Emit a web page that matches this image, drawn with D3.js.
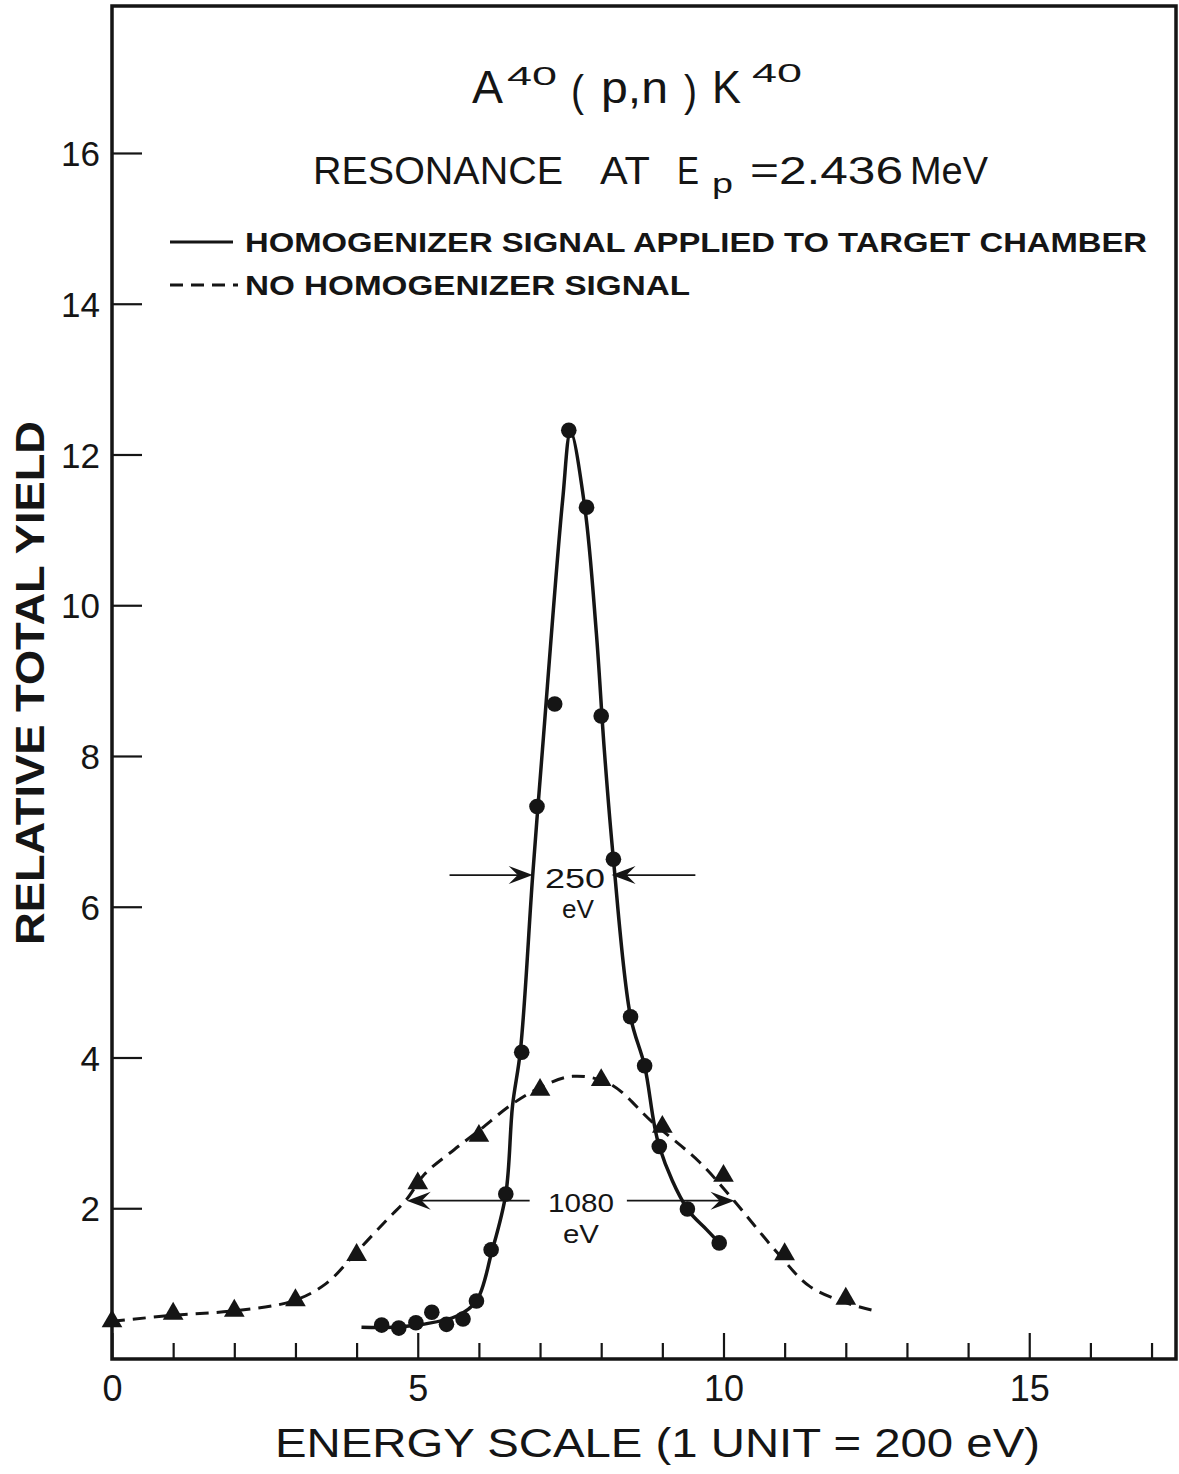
<!DOCTYPE html>
<html><head><meta charset="utf-8">
<script src="https://cdn.jsdelivr.net/npm/d3@7"></script>
<style>body{margin:0;background:#fff}svg{display:block}</style>
</head><body>
<svg id="c" width="1179" height="1474"></svg>
<script>
// ---- data ----
// measured points, homogenizer signal applied (circles)
const homX = [4.41,4.69,4.97,5.23,5.47,5.74,5.96,6.20,6.44,6.70,6.95,7.24,7.47,7.76,8.00,8.20,8.48,8.71,8.95,9.41,9.93];
const homY = [0.45,0.41,0.48,0.62,0.46,0.53,0.77,1.45,2.19,4.07,7.33,8.69,12.32,11.30,8.53,6.63,4.54,3.89,2.82,1.99,1.54];
// hand-drawn solid curve
const homCurveX = [4.08,4.60,5.08,5.64,5.96,6.21,6.44,6.55,6.68,6.88,7.04,7.37,7.50,7.73,7.92,8.05,8.20,8.48,8.71,8.95,9.41,9.72,9.93];
const homCurveY = [0.42,0.42,0.46,0.57,0.77,1.42,2.19,3.36,4.10,6.42,8.09,11.40,12.30,11.31,9.64,8.09,6.63,4.54,3.89,2.82,1.99,1.72,1.54];
// measured points, no homogenizer signal (triangles)
const noX = [0,1,2,3,4,5,6,7,8,9,10,11,12];
const noY = [0.50,0.60,0.64,0.78,1.38,2.33,2.96,3.57,3.70,3.08,2.43,1.39,0.80];
// hand-drawn dashed curve
const noCurveX = [0,1,2,2.96,3.5,4.0,4.5,4.82,5.11,5.6,6.0,6.54,7.0,7.53,8.14,8.84,9.61,10.15,10.87,11.4,11.95,12.42];
const noCurveY = [0.50,0.58,0.64,0.77,1.00,1.42,1.85,2.12,2.45,2.78,3.03,3.38,3.60,3.75,3.65,3.14,2.61,2.12,1.42,0.97,0.76,0.65];
// width markers (half-maximum arrows)
const fwhm250 = {y:6.42, outerL:5.52, tipL:6.88, tipR:8.17, outerR:9.54};
const fwhm1080 = {y:2.10, innerL:6.83, tipL:4.82, innerR:8.42, tipR:10.18};
// axes
const xDomain = [0, 17.4];
const yDomain = [0, 17.95];
const xTickValues = [0,1,2,3,4,5,6,7,8,9,10,11,12,13,14,15,16,17];
const xTickLabels = {0:"0",5:"5",10:"10",15:"15"};
const yTickValues = [2,4,6,8,10,12,14,16];
const yTickLabels = ["2","4","6","8","10","12","14","16"];

// ---- drawing ----
const svg = d3.select("#c");
const FONT = "'Liberation Sans', Arial, sans-serif";
const INK = "#151515";
const x = d3.scaleLinear().domain(xDomain).range([112, 1176]);
const y = d3.scaleLinear().domain(yDomain).range([1359, 6]);

// frame
svg.append("path")
  .attr("d", `M${x(0)},${y(yDomain[1])}H${x(xDomain[1])}V${y(0)}H${x(0)}Z`)
  .attr("fill","none").attr("stroke",INK).attr("stroke-width",3.5);

// x axis
const gx = svg.append("g").attr("transform",`translate(0,${y(0)})`)
  .call(d3.axisBottom(x).tickValues(xTickValues).tickSize(-16).tickPadding(16)
    .tickFormat(d => xTickLabels[d] || ""));
gx.select(".domain").remove();
gx.selectAll(".tick line").attr("stroke",INK).attr("stroke-width",2.2)
  .attr("y2", d => (d % 5 === 0 ? -26 : -16));
gx.selectAll(".tick text").attr("font-family",FONT).attr("font-size",36).attr("fill",INK);

// y axis
const gy = svg.append("g").attr("transform",`translate(${x(0)},0)`)
  .call(d3.axisLeft(y).tickValues(yTickValues).tickSize(-30).tickPadding(12)
    .tickFormat((d,i) => yTickLabels[i]));
gy.select(".domain").remove();
gy.selectAll(".tick line").attr("stroke",INK).attr("stroke-width",2.2);
gy.selectAll(".tick text").attr("font-family",FONT).attr("font-size",35).attr("fill",INK)
  .attr("dy","0.36em");

// curves
const line = d3.line().x(d => x(d[0])).y(d => y(d[1])).curve(d3.curveCatmullRom.alpha(0.5));
svg.append("path").datum(noCurveX.map((v,i)=>[v,noCurveY[i]]))
  .attr("d", line).attr("fill","none").attr("stroke",INK).attr("stroke-width",3)
  .attr("stroke-dasharray","13,8");
svg.append("path").datum(homCurveX.map((v,i)=>[v,homCurveY[i]]))
  .attr("d", line).attr("fill","none").attr("stroke",INK).attr("stroke-width",3.5);

// markers
svg.append("g").selectAll("path").data(noX.map((v,i)=>[v,noY[i]])).join("path")
  .attr("d", d3.symbol(d3.symbolTriangle, 185))
  .attr("transform", d => `translate(${x(d[0])},${y(d[1])})`).attr("fill",INK);
svg.append("g").selectAll("circle").data(homX.map((v,i)=>[v,homY[i]])).join("circle")
  .attr("cx", d => x(d[0])).attr("cy", d => y(d[1])).attr("r",7.8).attr("fill",INK);

// arrows
function arrow(x0, x1, yy){
  const X0 = x(x0), X1 = x(x1), Y = y(yy);
  const dir = X1 > X0 ? 1 : -1;
  svg.append("line").attr("x1",X0).attr("x2",X1 - dir*10).attr("y1",Y).attr("y2",Y)
    .attr("stroke",INK).attr("stroke-width",1.8);
  const L = 24, W = 9, N = 15;
  svg.append("path")
    .attr("d",`M${X1},${Y}L${X1-dir*L},${Y-W}L${X1-dir*N},${Y}L${X1-dir*L},${Y+W}Z`)
    .attr("fill",INK);
}
arrow(fwhm250.outerL, fwhm250.tipL, fwhm250.y);
arrow(fwhm250.outerR, fwhm250.tipR, fwhm250.y);
arrow(fwhm1080.innerL, fwhm1080.tipL, fwhm1080.y);
arrow(fwhm1080.innerR, fwhm1080.tipR, fwhm1080.y);

function txt(s, xx, yy, size, opts={}){
  const t = svg.append("text").attr("x",xx).attr("y",yy).attr("font-family",FONT)
    .attr("font-size",size).attr("fill",INK).text(s);
  if (opts.anchor) t.attr("text-anchor",opts.anchor);
  if (opts.len) t.attr("textLength",opts.len).attr("lengthAdjust","spacingAndGlyphs");
  if (opts.weight) t.attr("font-weight",opts.weight);
  return t;
}
// width labels
txt("250", 575, 888, 28, {anchor:"middle", len:60});
txt("eV", 578, 918, 25, {anchor:"middle", len:32});
txt("1080", 581, 1212, 26, {anchor:"middle", len:66});
txt("eV", 581, 1243, 26, {anchor:"middle", len:36});

// title
txt("A", 472, 103, 46, {len:31});
txt("40", 507, 85, 26, {len:50});
txt("(", 571, 106, 44, {len:13});
txt("p,n", 601, 103, 44, {len:67});
txt(")", 684, 106, 44, {len:13});
txt("K", 712, 103, 46, {len:29});
txt("40", 752, 82, 26, {len:50});

// subtitle
txt("RESONANCE", 313, 184, 38, {len:250});
txt("AT", 600, 184, 38, {len:50});
txt("E", 677, 184, 38, {len:22});
txt("p", 712, 193, 28, {len:21});
txt("=2.436", 750, 184, 38, {len:153});
txt("MeV", 910, 184, 38, {len:78});

// legend
svg.append("line").attr("x1",170).attr("x2",233).attr("y1",242).attr("y2",242)
  .attr("stroke",INK).attr("stroke-width",3);
svg.append("line").attr("x1",170).attr("x2",238).attr("y1",285).attr("y2",285)
  .attr("stroke",INK).attr("stroke-width",3).attr("stroke-dasharray","13,8");
txt("HOMOGENIZER SIGNAL APPLIED TO TARGET CHAMBER", 245, 252, 28, {len:902, weight:"bold"});
txt("NO HOMOGENIZER SIGNAL", 245, 295, 28, {len:445, weight:"bold"});

// axis titles
txt("ENERGY SCALE (1 UNIT = 200 eV)", 275, 1457, 41, {len:765});
svg.append("text").attr("transform","translate(44,683) rotate(-90)")
  .attr("text-anchor","middle").attr("font-family",FONT).attr("font-size",40)
  .attr("font-weight","bold").attr("fill",INK)
  .attr("textLength",524).attr("lengthAdjust","spacingAndGlyphs")
  .text("RELATIVE TOTAL YIELD");
</script>
</body></html>
